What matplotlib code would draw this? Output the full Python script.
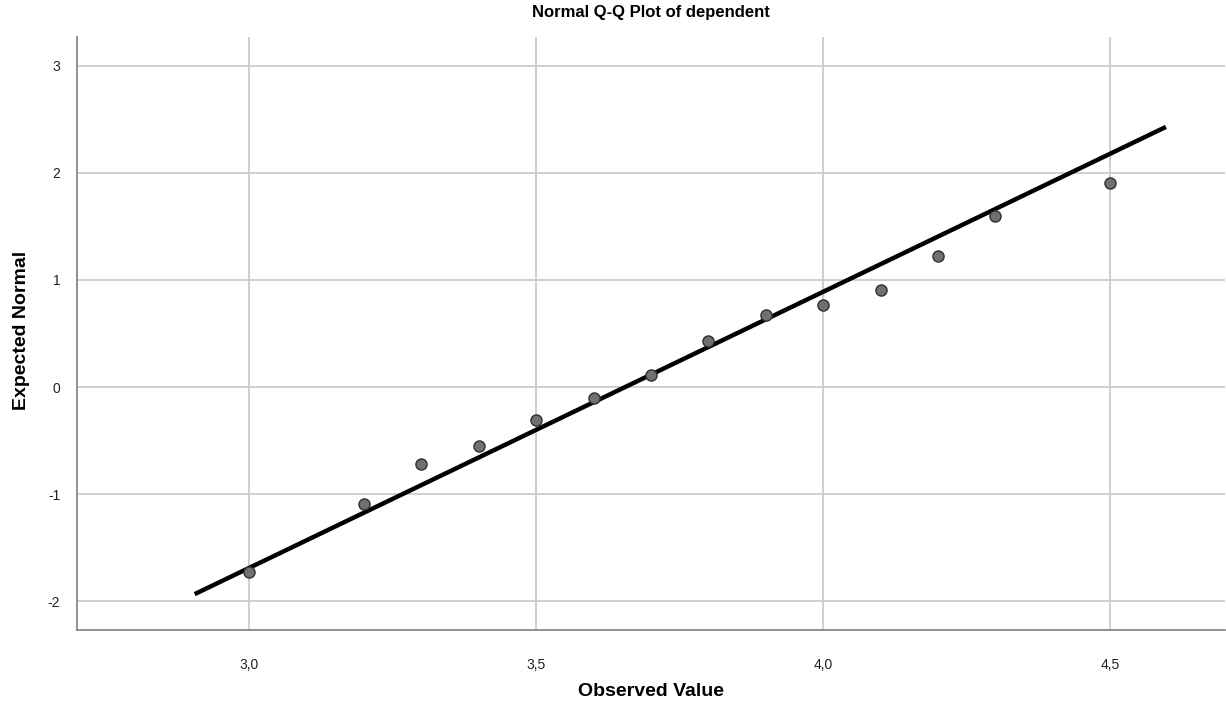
import matplotlib
matplotlib.use("Agg")
import matplotlib.pyplot as plt
from matplotlib.ticker import FuncFormatter

# observed values and their expected normal scores
observed = [3.0, 3.2, 3.3, 3.4, 3.5, 3.6, 3.7, 3.8, 3.9, 4.0, 4.1, 4.2, 4.3, 4.5]
expected = [-1.73, -1.09, -0.72, -0.55, -0.31, -0.10, 0.11, 0.43, 0.67, 0.77, 0.91, 1.22, 1.60, 1.91]

# reference line ends
line_x = [2.905, 4.597]
line_y = [-1.935, 2.43]

xticks = [3.0, 3.5, 4.0, 4.5]
yticks = [-2, -1, 0, 1, 2, 3]

plt.rcParams['font.family'] = ['Liberation Sans', 'DejaVu Sans']
plt.rcParams['axes.unicode_minus'] = False

fig = plt.figure(figsize=(12.26, 7.08), dpi=100)
ax = fig.add_axes([0.0628, 0.1102, 0.9364, 0.8375])

ax.plot(line_x, line_y, color='black', lw=3.2, solid_capstyle='butt', zorder=3)
ax.plot(observed, expected, 'o', ms=8, mfc='#707070', mec='#303030', mew=1, zorder=4)

ax.set_xlim(2.7, 4.7)
ax.set_ylim(-2.27, 3.27)
ax.set_xticks(xticks)
ax.set_yticks(yticks)
ax.xaxis.set_major_formatter(FuncFormatter(lambda v, p: ('%.1f' % v).replace('.', ',')))
ax.tick_params(length=0, labelsize=10, colors='#222222')
ax.tick_params(axis='x', pad=20)
ax.tick_params(axis='y', pad=12)
ax.grid(True, color='#cccccc', lw=1.3)
ax.set_axisbelow(True)

for s in ['top', 'right']:
    ax.spines[s].set_visible(False)
for s in ['left', 'bottom']:
    ax.spines[s].set_color('#888888')
    ax.spines[s].set_linewidth(1.3)

fig.text(0.531, 1 - 692 / 708, 'Observed Value', ha='center', va='center',
         fontsize=14, fontweight='bold')
fig.text(22 / 1226, 1 - 330 / 708, 'Expected Normal', ha='center', va='center',
         rotation=90, fontsize=14, fontweight='bold')
fig.text(0.531, 0.983, 'Normal Q-Q Plot of dependent', ha='center', va='center',
         fontsize=12, fontweight='bold')

fig.savefig('out.png', dpi=100)
